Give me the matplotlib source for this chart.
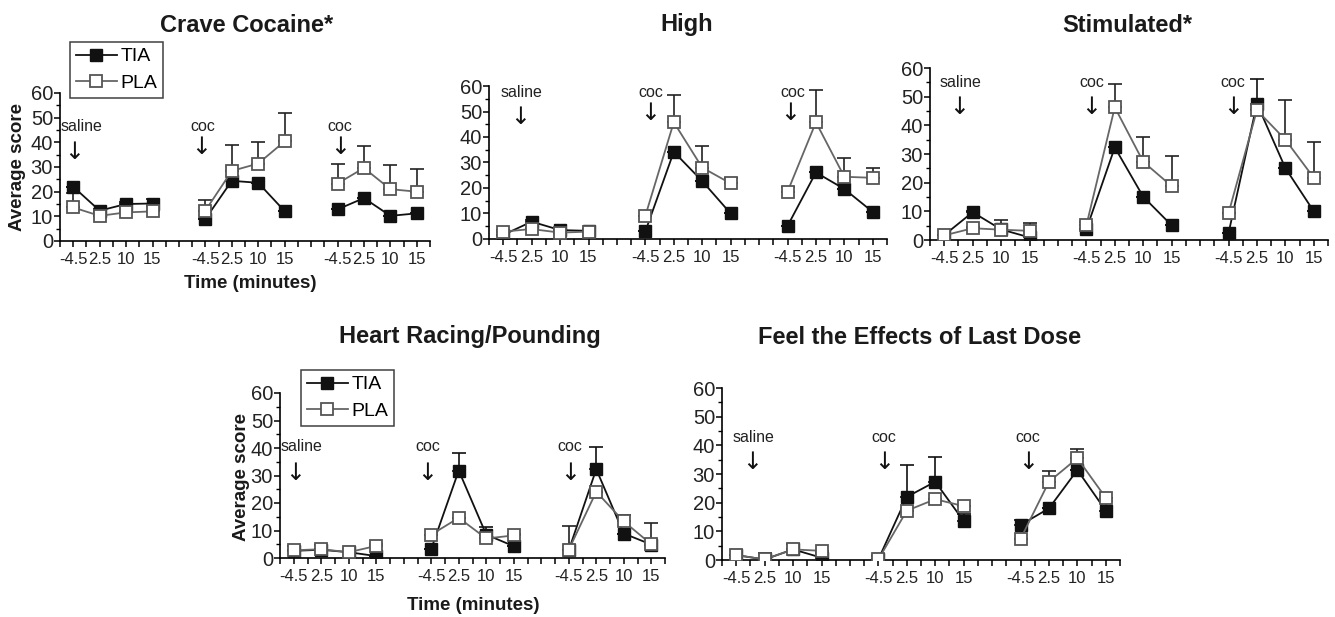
import numpy as np
import matplotlib
matplotlib.use('Agg')
import matplotlib.pyplot as plt
from matplotlib.lines import Line2D

plt.rcParams['font.family'] = ['Liberation Sans', 'DejaVu Sans']

# data: 3 blocks (saline, coc, coc) x 4 time points
time_labels = ["-4.5", "2.5", "10", "15"]
positions = [0, 1, 2, 3, 5, 6, 7, 8, 10, 11, 12, 13]
titles = ["Crave Cocaine*", "High", "Stimulated*",
          "Heart Racing/Pounding", "Feel the Effects of Last Dose"]
block_labels = ["saline", "coc", "coc"]

tia = [
    [22, 12.3, 15, 15.2, 8.9, 24.4, 23.6, 12.1, 12.8, 17.4, 10.2, 11.2],
    [1.6, 6.8, 3.5, 3.2, 3, 34.2, 22.7, 10, 5.1, 26.1, 19.6, 10.6],
    [1.7, 9.7, 3.7, 0.9, 3.7, 32.3, 15.1, 5.1, 2.3, 47.6, 25.1, 10],
    [2.6, 3, 2.1, 0.7, 3.3, 31.8, 8.5, 4.3, 2.8, 32.3, 8.9, 4.9],
    [1.7, 0.2, 3.7, 0.8, 0.2, 22, 27.3, 13.6, 12.2, 18, 31.4, 17.2],
]
pla = [
    [13.6, 10.2, 11.6, 12, 12.3, 28.4, 31.4, 40.4, 23.3, 29.6, 21, 20],
    [2.9, 3.9, 2.5, 2.9, 9.1, 45.8, 28, 21.8, 18.5, 45.8, 24.4, 24],
    [1.6, 4.1, 3.6, 3.2, 5.1, 46.3, 27.3, 18.8, 9.3, 45.3, 35, 21.7],
    [2.8, 3.2, 2.1, 4.4, 8.5, 14.6, 7.1, 8.2, 3, 24.1, 13.3, 5],
    [1.7, 0.2, 3.7, 3.2, 0.2, 17.2, 21.2, 18.8, 7.3, 27.3, 35.5, 21.7],
]
tia_err = [
    [0, 0.8, 0.8, 1.8, 0, 0, 0, 0, 0, 0, 0, 0],
    [0, 0.5, 0.5, 0, 0, 0, 0, 0, 0, 0, 0, 0],
    [0, 0.5, 0, 0, 0, 0, 0, 0, 0, 8.4, 0, 0],
    [1.8, 1.9, 0, 0, 0, 6.5, 2.7, 0, 0, 7.9, 0, 0],
    [0, 2.4, 1.8, 1.5, 1.2, 11.1, 8.6, 2.6, 1.8, 0, 0, 3.5],
]
pla_err = [
    [6, 1.5, 2, 2, 4.5, 10.4, 8.6, 11.6, 7.8, 8.8, 9.9, 9],
    [0.5, 0.5, 1, 1, 0, 10.5, 8.4, 2.3, 2, 12.8, 7.4, 3.9],
    [0, 0.5, 3.4, 2.6, 1.3, 8.1, 8.8, 10.6, 0, 0, 14, 12.4],
    [0, 0, 0, 0.7, 0, 0, 0, 0.7, 8.6, 0, 2.3, 7.8],
    [0, 0, 0, 0, 0, 0, 0, 0, 0, 3.8, 3.1, 0],
]

W, H = 1335, 617
fig = plt.figure(figsize=(W / 100, H / 100), dpi=100)

# axes boxes in pixels: left, right, top, bottom
boxes = [(60, 430, 93, 241), (489, 887, 86, 239), (930, 1328, 68, 240),
         (280, 665, 393, 558), (722, 1120, 388, 560)]
title_pos = [(247, 25), (687, 25), (1127, 25), (470, 337), (920, 337)]
# annotation layout: (text x, text y, arrow x, arrow y) per block, data units
ann = [
    [(0.33, 46.6, 0.04, 36), (4.9, 46.6, 4.85, 38), (10.1, 46.6, 10.1, 38)],
    [(0.63, 57.6, 0.6, 47.8), (5.2, 57.6, 5.15, 49.4), (10.2, 57.6, 10.1, 49.4)],
    [(0.56, 54.8, 0.53, 46.4), (5.2, 54.8, 5.16, 46.4), (10.15, 54.8, 10.15, 46.4)],
    [(0.29, 40.7, 0.04, 31), (4.88, 40.7, 4.85, 31), (10.05, 40.7, 10.05, 31)],
    [(0.6, 42.9, 0.56, 34.2), (5.2, 42.9, 5.2, 34.2), (10.26, 42.9, 10.26, 34.2)],
]

tick_pos = np.arange(-0.5, 13.51, 0.5)
tick_lab = []
for t in tick_pos:
    if t in positions:
        tick_lab.append(time_labels[positions.index(t) % 4])
    else:
        tick_lab.append("")

pos = np.array(positions)
for i in range(5):
    l, r, t, b = boxes[i]
    ax = fig.add_axes([l / W, 1 - b / H, (r - l) / W, (b - t) / H])
    for k in range(3):
        s = slice(4 * k, 4 * k + 4)
        x = pos[s]
        yt = np.array(tia[i][s]); yp = np.array(pla[i][s])
        et = np.array(tia_err[i][s]); ep = np.array(pla_err[i][s])
        ax.errorbar(x, yp, yerr=[np.zeros(4), ep], fmt='none', ecolor='#222222',
                    elinewidth=1.2, capsize=5, capthick=1.2, zorder=1)
        ax.errorbar(x, yt, yerr=[np.zeros(4), et], fmt='none', ecolor='#111111',
                    elinewidth=1.2, capsize=5, capthick=1.2, zorder=1)
        ax.plot(x, yt, '-', color='#111111', lw=1.3, marker='s', ms=8,
                mfc='#111111', mec='#111111', zorder=3)
        ax.plot(x, yp, '-', color='#666666', lw=1.3, marker='s', ms=8,
                mfc='white', mec='#555555', mew=1.3, zorder=4)
        tx, ty, axx, ayy = ann[i][k]
        ax.text(tx, ty, block_labels[k], ha='center', va='center', fontsize=11.5,
                color='#222222')
        ax.text(axx, ayy, '\u2193', ha='center', va='center', fontsize=17,
                family='DejaVu Sans', color='#111111')
    ax.set_xlim(-0.5, 13.5)
    ax.set_ylim(0, 60)
    ax.set_xticks(tick_pos)
    ax.set_xticklabels(tick_lab, fontsize=12, color='#222222')
    ax.set_yticks(np.arange(0, 61, 10))
    ax.set_yticks(np.arange(0, 61, 5), minor=True)
    ax.tick_params(axis='y', labelsize=14.5, labelcolor='#222222', length=4, width=1.1, pad=1)
    ax.tick_params(axis='y', which='minor', length=3, width=1)
    ax.tick_params(axis='x', length=4, width=1.1, pad=4)
    for sp in ['top', 'right']:
        ax.spines[sp].set_visible(False)
    for sp in ['left', 'bottom']:
        ax.spines[sp].set_linewidth(1.2)
    tx, ty = title_pos[i]
    fig.text(tx / W, 1 - ty / H, titles[i], ha='center', va='center',
             fontsize=17, fontweight='bold', color='#1a1a1a')
    if i in (0, 3):
        ylx, yly = (18, 167) if i == 0 else (242, 477)
        fig.text(ylx / W, 1 - yly / H, "Average score", rotation=90,
                 ha='center', va='center', fontsize=13.5, fontweight='bold',
                 color='#1a1a1a')
        xlx, xly = (250, 284) if i == 0 else (473, 605)
        fig.text(xlx / W, 1 - xly / H, "Time (minutes)", ha='center',
                 va='center', fontsize=13.5, fontweight='bold', color='#1a1a1a')
        handles = [Line2D([], [], color='#111111', lw=1.3, marker='s', ms=8,
                          mfc='#111111', mec='#111111'),
                   Line2D([], [], color='#666666', lw=1.3, marker='s', ms=8,
                          mfc='white', mec='#555555', mew=1.3)]
        lx, ly = (70, 42) if i == 0 else (301, 370)
        leg = fig.legend(handles, ["TIA", "PLA"], loc='upper left',
                         bbox_to_anchor=(lx / W, 1 - ly / H), fontsize=14,
                         frameon=True, fancybox=False, borderaxespad=0,
                         borderpad=0.3, handlelength=2.1, handletextpad=0.2,
                         labelspacing=0.45)
        leg.get_frame().set_edgecolor('#111111')
        leg.get_frame().set_linewidth(1.1)

plt.savefig("out.png", dpi=100)
